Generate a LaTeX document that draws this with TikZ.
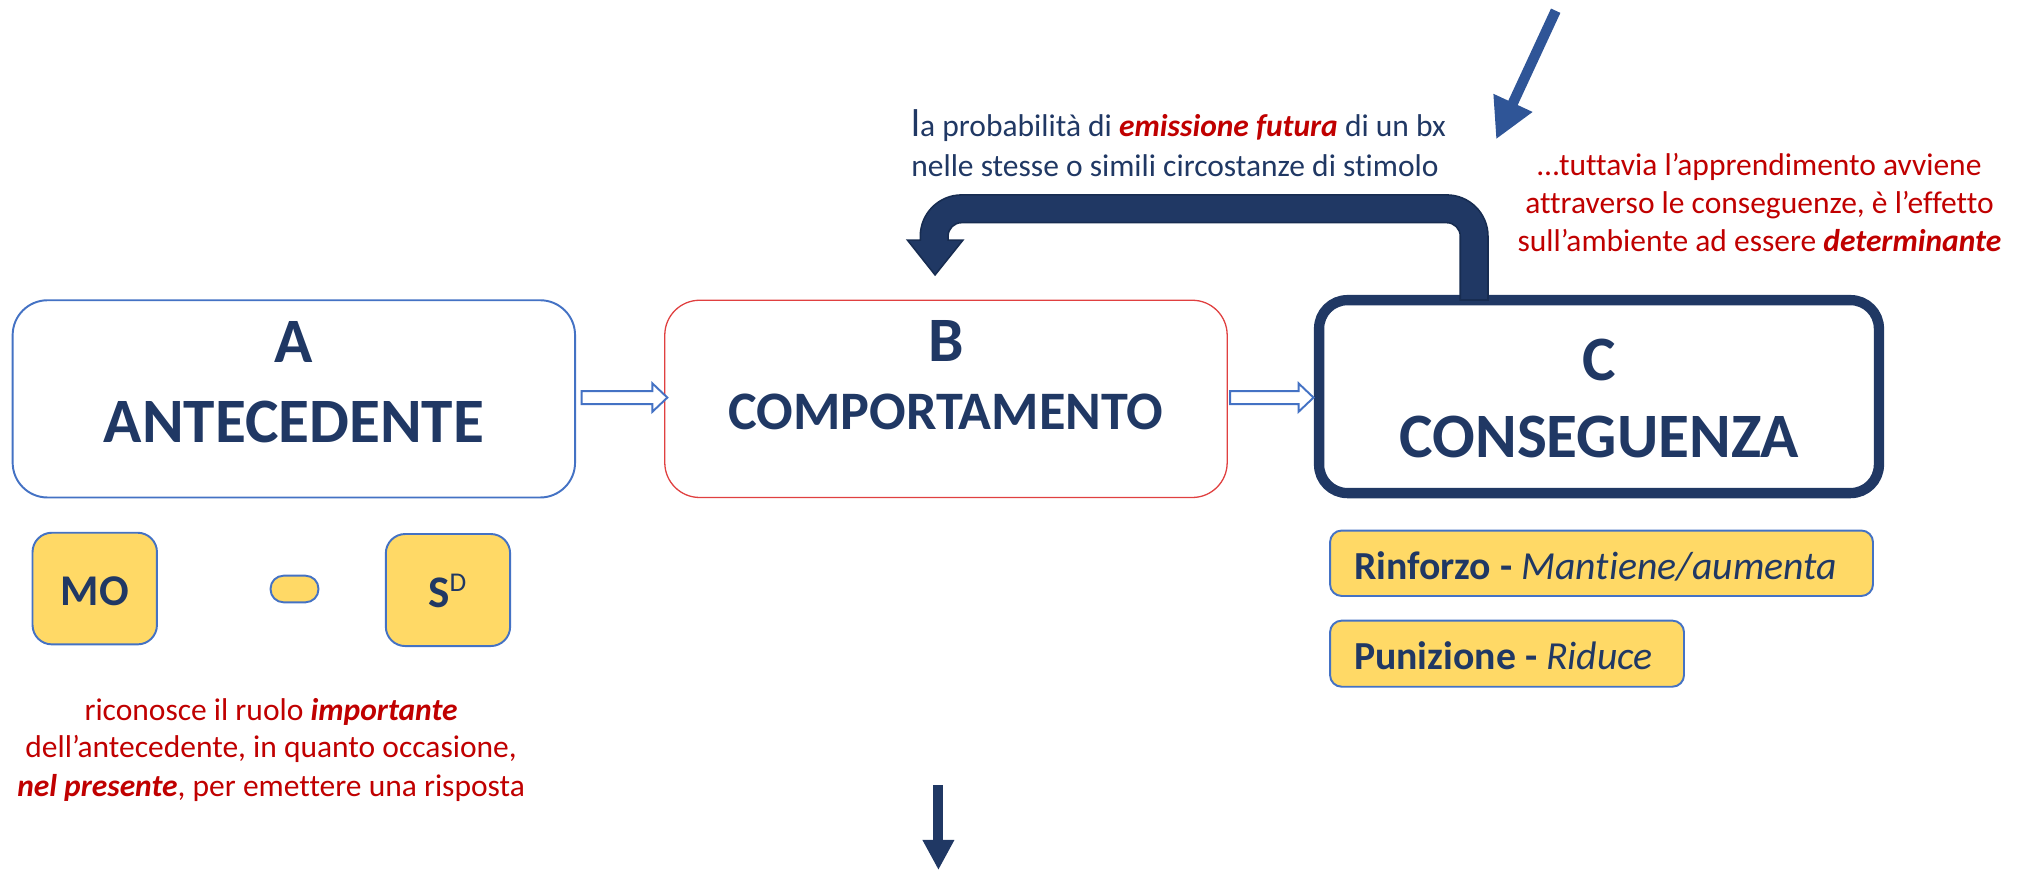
\documentclass[tikz,border=0pt]{standalone}
\usepackage{fontspec}
\setmainfont{Carlito}[Ligatures={NoCommon,TeX}]
\usetikzlibrary{arrows.meta}
\definecolor{navy}{HTML}{203864}
\definecolor{navyline}{HTML}{172C51}
\definecolor{bluebd}{HTML}{4472C4}
\definecolor{redtxt}{HTML}{C00000}
\definecolor{redbd}{HTML}{E04040}
\definecolor{yel}{HTML}{FFD966}
\definecolor{arrblue}{HTML}{2F5597}
\begin{document}
\begin{tikzpicture}[x=0.5pt,y=-0.5pt,
  every node/.style={inner sep=0pt, outer sep=0pt},
  bigbox/.style={draw, fill=white, minimum width=217.85pt, minimum height=76.4pt, rounded corners=13.5pt},
  ybox/.style={draw=bluebd, fill=yel, line width=0.75pt},
  title/.style={anchor=base, text=navy, font=\fontsize{24.5}{30}\selectfont\bfseries},
  small/.style={font=\fontsize{12.2}{15}\selectfont},
  redline/.style={small, anchor=base, text=redtxt},
  navyline/.style={small, anchor=base west, text=navy},
  hollow/.style={draw=bluebd, fill=white, line width=0.75pt},
  ytext/.style={anchor=base west, text=navy, font=\fontsize{15.4}{18}\selectfont}
]
\useasboundingbox (0,0) rectangle (1568,674.8);

% main boxes
\node[bigbox, draw=bluebd, line width=0.75pt] (A) at (227.65,309) {};
\node[bigbox, draw=redbd, line width=0.5pt] (B) at (732.85,309) {};
\node[draw=navy, fill=white, line width=4pt, minimum width=216.85pt, minimum height=74.75pt, rounded corners=11pt] (C) at (1238.75,307.25) {};

\node[title] (Aa) at (227.65,281) {A};
\node[title] (Ab) at (227.65,342.6) {ANTECEDENTE};
\node[title] (Ba) at (732.85,280) {B};
\node[title, font=\fontsize{21}{26}\selectfont\bfseries] (Bb) at (732.85,333) {COMPORTAMENTO};
\node[title] (Ca) at (1239,294.4) {C};
\node[title] (Cb) at (1239,354.3) {CONSEGUENZA};

% hollow arrows
\draw[hollow] (450.6,303) -- (505.4,303) -- (505.4,297) -- (517,308) -- (505.4,319) -- (505.4,313) -- (450.6,313) -- cycle;
\draw[hollow] (953,303) -- (1006,303) -- (1006,297) -- (1017.6,308) -- (1006,319) -- (1006,313) -- (953,313) -- cycle;

% U-turn arrow
\draw[fill=navy, draw=navyline, line width=0.6pt]
  (1152.75,232.4) -- (1152.75,183)
  .. controls (1152.75,165.33) and (1138.42,151) .. (1120.75,151)
  -- (744.95,151)
  .. controls (727.28,151) and (712.95,165.33) .. (712.95,183)
  -- (712.95,186) -- (703,186) -- (724.4,213) -- (746,186) -- (734.45,186) -- (734.45,183)
  .. controls (734.45,177.2) and (739.15,172.5) .. (744.95,172.5)
  -- (1120.75,172.5)
  .. controls (1126.55,172.5) and (1131.25,177.2) .. (1131.25,183)
  -- (1131.25,232.4) -- cycle;

% antecedent sub-boxes
\node[ybox, minimum width=48.2pt, minimum height=43.25pt, rounded corners=7.5pt] (MO) at (73.4,455.95) {};
\node[ybox, minimum width=18.55pt, minimum height=10.3pt, rounded corners=5pt] (pill) at (228.15,456.3) {};
\node[ybox, minimum width=48.15pt, minimum height=43.4pt, rounded corners=7.5pt] (SD) at (347.05,457.1) {};
\node[anchor=base, text=navy, font=\fontsize{17}{20}\selectfont\bfseries] (MOt) at (73.4,468.7) {MO};
\node[anchor=base, text=navy, font=\fontsize{17.5}{20}\selectfont\bfseries] (SDt) at (346.6,470.5) {S\raisebox{6pt}{\fontsize{10.5}{12}\selectfont\mdseries D}};

% consequence sub-boxes
\node[ybox, minimum width=210.3pt, minimum height=25.35pt, rounded corners=4.5pt] (R) at (1240.7,436.35) {};
\node[ybox, minimum width=137.1pt, minimum height=25.6pt, rounded corners=4.5pt] (P) at (1167.5,506.4) {};
\node[ytext] (Rt) at (1049,449.3) {\textbf{Rinforzo -} \textit{Mantiene/aumenta}};
\node[ytext] (Pt) at (1049,519) {\textbf{Punizione -} \textit{Riduce}};

% left red text
\node[redline] (L1) at (210,557.8) {riconosce il ruolo \textbf{\textit{importante}}};
\node[redline] (L2) at (210,586.7) {dell’antecedente, in quanto occasione,};
\node[redline] (L3) at (210,617.2) {\textbf{\textit{nel presente}}, per emettere una risposta};

% top text
\node[navyline] (T1) at (706,105.9) {{\fontsize{15}{15}\selectfont l}a probabilità di \textcolor{redtxt}{\textbf{\textit{emissione futura}}} di un bx};
\node[navyline] (T2) at (706,136.9) {nelle stesse o simili circostanze di stimolo};

% right red text
\node[redline] (R1) at (1363,135.6) {…tuttavia l’apprendimento avviene};
\node[redline] (R2) at (1363,165.3) {attraverso le conseguenze, è l’effetto};
\node[redline] (R3) at (1363,195) {sull’ambiente ad essere \textbf{\textit{determinante}}};

% free arrows
\coordinate (d1) at (1205.2,8.3);
\coordinate (d2) at (1159,108);
\draw[arrblue, line width=4pt, -{Triangle[width=15.5pt,length=15.6pt]}] (d1) -- (d2);
\coordinate (b1) at (727,608.2);
\coordinate (b2) at (727,674);
\draw[navy, line width=3.9pt, -{Triangle[width=11.5pt,length=11.65pt]}] (b1) -- (b2);
\end{tikzpicture}
\end{document}
